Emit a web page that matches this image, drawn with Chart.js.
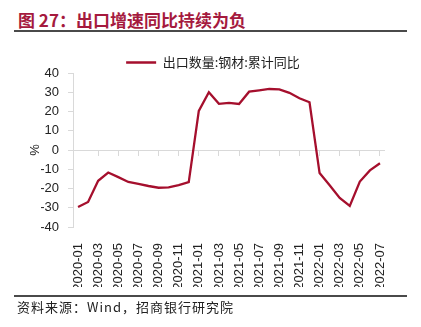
<!DOCTYPE html>
<html>
<head>
<meta charset="utf-8">
<script src="https://cdn.jsdelivr.net/npm/chart.js@4/dist/chart.umd.min.js"></script>
<style>
  body { margin: 0; width: 421px; height: 327px; background: #fff; position: relative; overflow: hidden; }
  #title { position: absolute; left: 18px; top: 7px; font: bold 17px "Noto Sans CJK SC", sans-serif; color: #a51a3e; white-space: nowrap; }
  .rule { position: absolute; left: 14px; width: 393px; height: 2px; background: #4a4a4a; }
  #source { position: absolute; left: 17px; top: 297px; font: 13px "Noto Sans CJK SC", sans-serif; letter-spacing: 1px; color: #222; white-space: nowrap; }
  #chart { position: absolute; left: 0; top: 0; }
</style>
</head>
<body>
<div id="title">图 27：出口增速同比持续为负</div>
<div class="rule" style="top:30px"></div>
<canvas id="chart" width="421" height="327"></canvas>
<div class="rule" style="top:295px"></div>
<div id="source">资料来源：Wind，招商银行研究院</div>
<script>
// monthly categories
var months = [
  "2020-01", "2020-02", "2020-03", "2020-04", "2020-05", "2020-06",
  "2020-07", "2020-08", "2020-09", "2020-10", "2020-11", "2020-12",
  "2021-01", "2021-02", "2021-03", "2021-04", "2021-05", "2021-06",
  "2021-07", "2021-08", "2021-09", "2021-10", "2021-11", "2021-12",
  "2022-01", "2022-02", "2022-03", "2022-04", "2022-05", "2022-06",
  "2022-07"
];
// 出口数量:钢材:累计同比 (%)
var steelExport = [
  -29.6, -27.0, -16.0, -11.7, -14.1, -16.6, -17.6, -18.7, -19.6, -19.4, -18.2, -16.7,
  20.3, 30.0, 24.0, 24.5, 23.9, 30.3, 31.0, 31.7, 31.5, 29.7, 26.9, 24.8,
  -12.0, -18.3, -24.9, -29.0, -16.4, -10.6, -6.9
];
var seriesName = "出口数量:钢材:累计同比";
var yTicks = { min: -40, max: 40, step: 10 };

var lineColor = "#a50f2d";
var axisColor = "#d9d9d9";

// legend sits close to the plot, drop some of its bottom gap
var legendTrim = {
  id: "legendTrim",
  beforeLayout: function (chart) {
    var legend = chart.legend;
    if (legend && !legend._trimmed) {
      var fit = legend.fit;
      legend.fit = function () {
        fit.call(this);
        this.height -= 6;
      };
      legend._trimmed = true;
    }
  },
};

var ctx = document.getElementById("chart");
new Chart(ctx, {
  type: "line",
  data: {
    labels: months,
    datasets: [
      {
        label: seriesName,
        data: steelExport,
        borderColor: lineColor,
        backgroundColor: lineColor,
        borderWidth: 2.3,
        pointRadius: 0,
        tension: 0,
      },
    ],
  },
  plugins: [legendTrim],
  options: {
    responsive: false,
    animation: false,
    layout: { padding: { left: 41, right: 36, top: 52, bottom: 40 } },
    plugins: {
      tooltip: { enabled: false },
      legend: {
        labels: {
          boxWidth: 30,
          boxHeight: 0,
          padding: 4,
          color: "#222",
          font: { family: "Noto Sans CJK SC", size: 13 },
        },
      },
    },
    scales: {
      x: {
        offset: true,
        grid: { display: false },
        border: { display: false },
        ticks: {
          autoSkip: false,
          maxRotation: 90,
          minRotation: 90,
          padding: 8,
          color: "#222",
          font: { family: "Liberation Sans", size: 13 },
          callback: function (value, index) {
            return index % 2 === 0 ? months[index] : "";
          },
        },
        afterFit: function (scale) { scale.height = 60; },
      },
      x0: {
        type: "category",
        position: { y: 0 },
        offset: true,
        ticks: { display: false },
        border: { display: false },
        grid: {
          drawOnChartArea: false,
          tickLength: 6,
          tickColor: function (c) {
            return (c.index !== undefined && c.index > 0 && c.index % 2 === 0) ? axisColor : "rgba(0,0,0,0)";
          },
        },
        afterFit: function (scale) { scale.height = 0; },
      },
      y: {
        min: yTicks.min,
        max: yTicks.max,
        border: { color: axisColor, width: 1 },
        grid: {
          tickLength: 5,
          tickColor: axisColor,
          color: function (c) {
            return c.tick && c.tick.value === 0 ? axisColor : "rgba(0,0,0,0)";
          },
        },
        ticks: {
          stepSize: yTicks.step,
          padding: 9,
          color: "#222",
          font: { family: "Liberation Sans", size: 13 },
        },
        title: {
          display: true,
          text: "%",
          color: "#222",
          padding: { top: -13.8, bottom: 0 },
          font: { family: "Liberation Sans", size: 13 },
        },
        afterFit: function (scale) { scale.width = 32; },
      },
    },
  },
});
</script>
</body>
</html>
